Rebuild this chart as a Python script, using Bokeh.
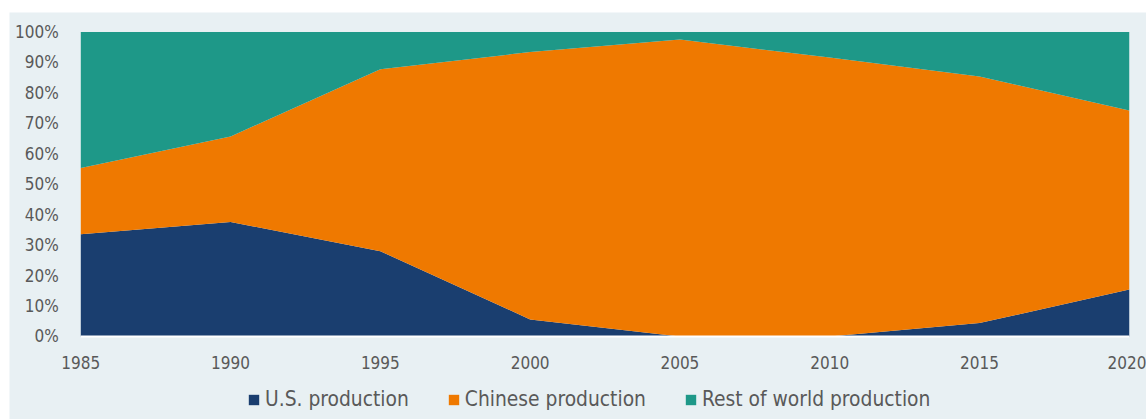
from bokeh.plotting import figure
from bokeh.models import ColumnDataSource, FixedTicker, PrintfTickFormatter, Legend
from bokeh.embed import file_html
from bokeh.resources import INLINE

years = [1985, 1990, 1995, 2000, 2005, 2010, 2015, 2020]
us_production = [33.6, 37.6, 28.0, 5.6, 0.0, 0.0, 4.4, 15.4]
chinese_production = [21.7, 28.1, 59.8, 87.8, 97.5, 91.6, 81.0, 58.8]
rest_of_world_production = [44.7, 34.3, 12.2, 6.6, 2.5, 8.4, 14.6, 25.8]
series_names = ["U.S. production", "Chinese production", "Rest of world production"]
colors = ["#1a3e6f", "#ef7900", "#1e9888"]

FONT = "Liberation Sans Narrow, DejaVu Sans Condensed, sans-serif"
TEXT = "#595959"
BG = "#e8f0f3"

src = ColumnDataSource(dict(year=years, us=us_production, cn=chinese_production,
                            row=rest_of_world_production))

p = figure(width=1137, height=407, margin=(12, 0, 0, 9),
           x_range=(1982.62, 2020.576), y_range=(-27.26, 106.4),
           output_backend="svg", toolbar_location=None,
           background_fill_color=BG, border_fill_color=BG,
           min_border_left=0, min_border_right=0, min_border_top=0, min_border_bottom=0)
p.outline_line_color = None

rs = p.varea_stack(["us", "cn", "row"], x="year", color=colors, source=src)
p.line(x=[years[0], years[-1]], y=[0, 0], line_color="white", line_width=2)

p.xgrid.visible = False
p.ygrid.visible = False

p.xaxis.fixed_location = 0
p.yaxis.fixed_location = years[0]
p.xaxis.ticker = FixedTicker(ticks=years)
p.yaxis.ticker = FixedTicker(ticks=list(range(0, 101, 10)))
p.yaxis.formatter = PrintfTickFormatter(format="%d%%")
for ax in (p.xaxis[0], p.yaxis[0]):
    ax.major_tick_line_color = None
    ax.minor_tick_line_color = None
    ax.axis_line_color = None
    ax.major_label_text_font = FONT
    ax.major_label_text_font_size = "17px"
    ax.major_label_text_color = TEXT
p.xaxis.major_label_standoff = 14
p.yaxis.major_label_standoff = 16

legend = Legend(items=[(n, [r]) for n, r in zip(series_names, rs)],
                orientation="horizontal", location=(238, 8),
                background_fill_alpha=0, border_line_color=None,
                label_text_font=FONT, label_text_font_size="20.8px",
                label_text_color=TEXT, glyph_width=13, glyph_height=13,
                spacing=38, padding=0, margin=0, label_standoff=5)
p.add_layout(legend, "center")

open("out.html", "w").write(file_html(p, INLINE))
